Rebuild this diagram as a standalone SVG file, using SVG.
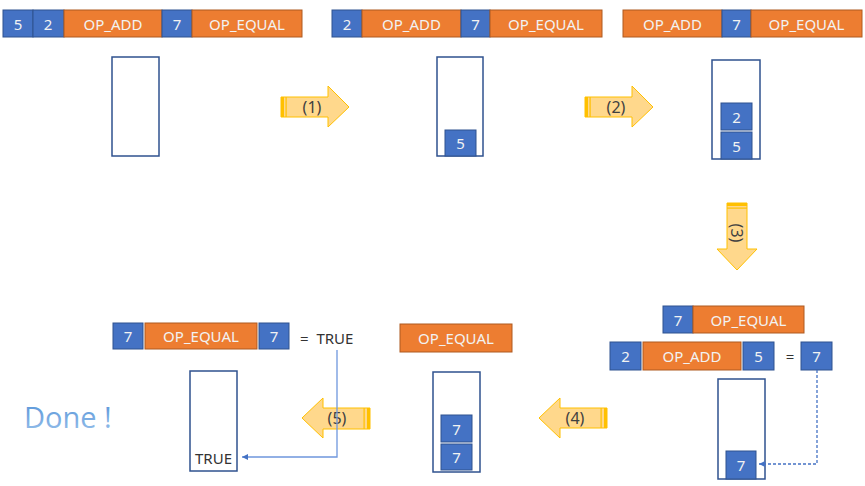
<svg xmlns="http://www.w3.org/2000/svg" width="865" height="486" viewBox="0 0 865 486">
<defs>
<style>
.b{fill:#4472C4;stroke:#2F528F;stroke-width:1}
.o{fill:#ED7D31;stroke:#AE5A21;stroke-width:1}
.t{font-family:"Noto Sans","Open Sans",sans-serif;font-size:15px;fill:#F2F2F2;text-anchor:middle;dominant-baseline:central}
.k{font-family:"Noto Sans","Open Sans",sans-serif;font-size:15px;fill:#333;dominant-baseline:central}
.stack{fill:#fff;stroke:#2F528F;stroke-width:1.5}
.arr{fill:#FFD88C;stroke:#FFC000;stroke-width:1}
.strip{fill:#FFC000}
.al{font-family:"Noto Sans","DejaVu Sans",sans-serif;font-size:16px;fill:#404040;text-anchor:middle;dominant-baseline:central}
</style>
<marker id="ah" markerWidth="8" markerHeight="8" refX="6" refY="4" orient="auto" markerUnits="userSpaceOnUse">
<path d="M0,1 L6,4 L0,7 z" fill="#4472C4"/>
</marker>
<linearGradient id="dg" x1="0" y1="0" x2="0" y2="1">
<stop offset="0" stop-color="#4F8FD6"/>
<stop offset="1" stop-color="#9CC3EC"/>
</linearGradient>
</defs>

<g id="row1">
<rect class="b" x="3" y="10" width="30" height="27"/><text class="t" x="18" y="24">5</text>
<rect class="b" x="33" y="10" width="31" height="27"/><text class="t" x="48" y="24">2</text>
<rect class="o" x="64" y="10" width="98" height="27"/><text class="t" x="113" y="24">OP_ADD</text>
<rect class="b" x="162" y="10" width="30" height="27"/><text class="t" x="177" y="24">7</text>
<rect class="o" x="192" y="10" width="110" height="27"/><text class="t" x="247" y="24">OP_EQUAL</text>
</g>
<g id="stack1"><rect class="stack" x="112" y="57" width="47" height="99"/></g>

<g id="arrow1">
<polygon class="arr" points="281,97 328,97 328,86 349,107 328,127 328,117 281,117"/>
<rect class="strip" x="281" y="97" width="3" height="20"/><rect class="strip" x="285.5" y="97" width="1.2" height="20"/>
<text class="al" x="312" y="107">(1)</text>
</g>

<g id="row2">
<rect class="b" x="332" y="10" width="30" height="27"/><text class="t" x="347" y="24">2</text>
<rect class="o" x="362" y="10" width="99" height="27"/><text class="t" x="411.5" y="24">OP_ADD</text>
<rect class="b" x="461" y="10" width="29" height="27"/><text class="t" x="475.5" y="24">7</text>
<rect class="o" x="490" y="10" width="112" height="27"/><text class="t" x="546" y="24">OP_EQUAL</text>
</g>
<g id="stack2">
<rect class="stack" x="437" y="57" width="46" height="99"/>
<rect class="b" x="445" y="130" width="31" height="26"/><text class="t" x="460.5" y="143">5</text>
</g>

<g id="arrow2">
<polygon class="arr" points="585,97 632,97 632,86 653,107 632,127 632,117 585,117"/>
<rect class="strip" x="585" y="97" width="3" height="20"/><rect class="strip" x="589.5" y="97" width="1.2" height="20"/>
<text class="al" x="616" y="107">(2)</text>
</g>

<g id="row3">
<rect class="o" x="623" y="10" width="99" height="27"/><text class="t" x="672.5" y="24">OP_ADD</text>
<rect class="b" x="722" y="10" width="29" height="27"/><text class="t" x="736.5" y="24">7</text>
<rect class="o" x="751" y="10" width="111" height="27"/><text class="t" x="806.5" y="24">OP_EQUAL</text>
</g>
<g id="stack3">
<rect class="stack" x="712" y="60" width="48" height="99"/>
<rect class="b" x="721" y="103" width="31" height="27"/><text class="t" x="736.5" y="117">2</text>
<rect class="b" x="721" y="132" width="31" height="27"/><text class="t" x="736.5" y="146">5</text>
</g>

<g id="arrow3">
<polygon class="arr" points="727,203 747,203 747,249 757,249 737,270 717,249 727,249"/>
<rect class="strip" x="727" y="203" width="20" height="3"/><rect class="strip" x="727" y="207.5" width="20" height="1.2"/>
<text class="al" x="737" y="233" transform="rotate(90 737 233)">(3)</text>
</g>

<g id="expr4">
<rect class="b" x="663" y="306" width="30" height="27"/><text class="t" x="678" y="320">7</text>
<rect class="o" x="693" y="306" width="111" height="27"/><text class="t" x="748.5" y="320">OP_EQUAL</text>
<rect class="b" x="610" y="342" width="31" height="28"/><text class="t" x="625.5" y="356">2</text>
<rect class="o" x="643" y="342" width="98" height="28"/><text class="t" x="692" y="356">OP_ADD</text>
<rect class="b" x="743" y="342" width="31" height="28"/><text class="t" x="758.5" y="356">5</text>
<text class="k" x="790" y="356" text-anchor="middle">=</text>
<rect class="b" x="801" y="342" width="31" height="28"/><text class="t" x="816.5" y="356">7</text>
</g>
<g id="stack4">
<rect class="stack" x="718" y="379" width="47" height="100"/>
<rect class="b" x="726" y="451" width="30" height="28"/><text class="t" x="741" y="465">7</text>
</g>

<g id="arrow4">
<polygon class="arr" points="607,408 560,408 560,398 539,418 560,438 560,428 607,428"/>
<rect class="strip" x="604" y="408" width="3" height="20"/><rect class="strip" x="600.5" y="408" width="1.2" height="20"/>
<text class="al" x="575" y="418">(4)</text>
</g>

<g id="op5">
<rect class="o" x="400" y="324" width="112" height="28"/><text class="t" x="456" y="338">OP_EQUAL</text>
</g>
<g id="stack5">
<rect class="stack" x="433" y="372" width="47" height="100"/>
<rect class="b" x="441" y="415" width="31" height="27"/><text class="t" x="456.5" y="429">7</text>
<rect class="b" x="441" y="444" width="31" height="26"/><text class="t" x="456.5" y="457">7</text>
</g>

<g id="arrow5">
<polygon class="arr" points="370,408 323,408 323,398 302,418 323,438 323,429 370,429"/>
<rect class="strip" x="367" y="408" width="3" height="21"/><rect class="strip" x="363.5" y="408" width="1.2" height="21"/>
<text class="al" x="337" y="418">(5)</text>
</g>

<g id="expr6">
<rect class="b" x="113" y="323" width="30" height="26"/><text class="t" x="128" y="336">7</text>
<rect class="o" x="145" y="323" width="112" height="26"/><text class="t" x="201" y="336">OP_EQUAL</text>
<rect class="b" x="259" y="323" width="30" height="26"/><text class="t" x="274" y="336">7</text>
<text class="k" x="300" y="338" xml:space="preserve">=  TRUE</text>
</g>
<g id="stack6">
<rect class="stack" x="190" y="371" width="47" height="100"/>
<text class="k" x="213.5" y="458" text-anchor="middle" font-size="14">TRUE</text>
</g>

<g id="done">
<text x="24" y="428" font-family="'Open Sans','Noto Sans',sans-serif" font-size="29" fill="url(#dg)">Done !</text>
</g>

<g id="connectors" fill="none">
<path d="M817,370 V464 H759" stroke="#4472C4" stroke-width="1.3" stroke-dasharray="3,2" marker-end="url(#ah)"/>
<path d="M337,350 V457 H242" stroke="#6F97DD" stroke-width="1.3" marker-end="url(#ah)"/>
</g>
</svg>
